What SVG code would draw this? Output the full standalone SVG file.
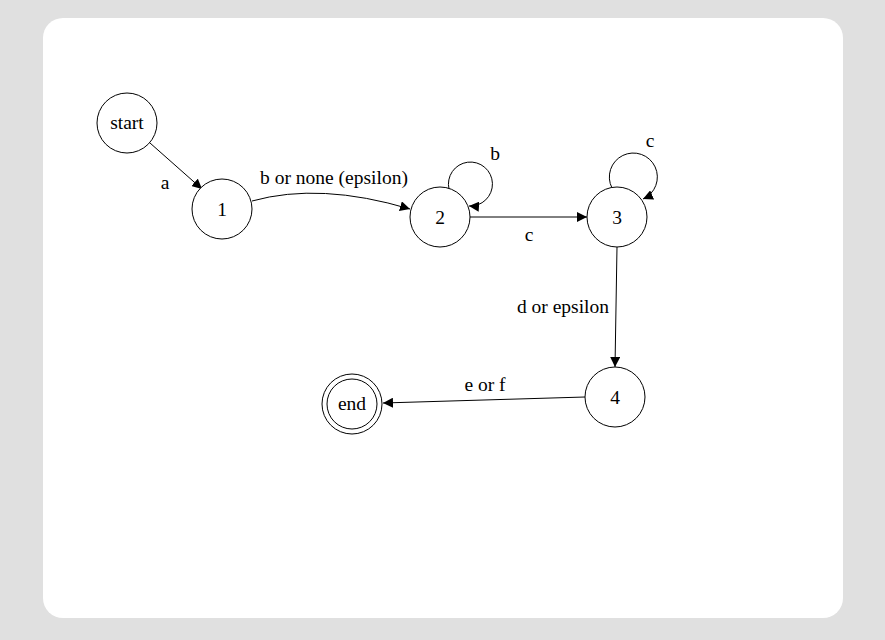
<svg xmlns="http://www.w3.org/2000/svg" width="885" height="640" viewBox="0 0 885 640">
<defs>
<marker id="arr" viewBox="0 0 10 10" refX="10" refY="5" markerWidth="10" markerHeight="10" markerUnits="userSpaceOnUse" orient="auto">
<path d="M0,0 L10,5 L0,10 Z" fill="#000"/>
</marker>
<style>
.n{fill:#fff;stroke:#000;stroke-width:1}
.t{font-family:"Liberation Serif","Times New Roman",serif;font-size:19.5px;fill:#000;text-anchor:middle}
.e{fill:none;stroke:#000;stroke-width:1;marker-end:url(#arr)}
</style>
</defs>
<rect width="885" height="640" fill="#e0e0e0"/>
<rect x="43" y="18" width="800" height="600" rx="20" fill="#fff"/>
<g id="connectors">
<line class="e" x1="150" y1="143" x2="202" y2="189"/>
<text class="t" x="165" y="189">a</text>
<path class="e" d="M252,201 Q320,182 410,209"/>
<text class="t" x="334" y="184">b or none (epsilon)</text>
<path class="e" d="M449,189 A22,22 0 1 1 469,206"/>
<text class="t" x="495" y="160">b</text>
<line class="e" x1="470" y1="217" x2="587" y2="217"/>
<text class="t" x="529" y="241">c</text>
<path class="e" d="M612,188 A24,24 0 1 1 643,199"/>
<text class="t" x="650" y="147">c</text>
<line class="e" x1="617" y1="247" x2="615" y2="367"/>
<text class="t" x="563" y="313">d or epsilon</text>
<line class="e" x1="585" y1="397" x2="383" y2="403"/>
<text class="t" x="485" y="391">e or f</text>
</g>
<g id="node-start"><circle class="n" cx="127" cy="123" r="30"/><text class="t" x="127" y="129">start</text></g>
<g id="node-1"><circle class="n" cx="222" cy="209" r="30"/><text class="t" x="222" y="216">1</text></g>
<g id="node-2"><circle class="n" cx="440" cy="217" r="30"/><text class="t" x="440" y="224">2</text></g>
<g id="node-3"><circle class="n" cx="617" cy="217" r="30"/><text class="t" x="617" y="224">3</text></g>
<g id="node-4"><circle class="n" cx="615" cy="397" r="30"/><text class="t" x="615" y="404">4</text></g>
<g id="node-end"><circle class="n" cx="352" cy="404" r="30"/><circle class="n" cx="352" cy="404" r="25"/><text class="t" x="352" y="410">end</text></g>
</svg>
